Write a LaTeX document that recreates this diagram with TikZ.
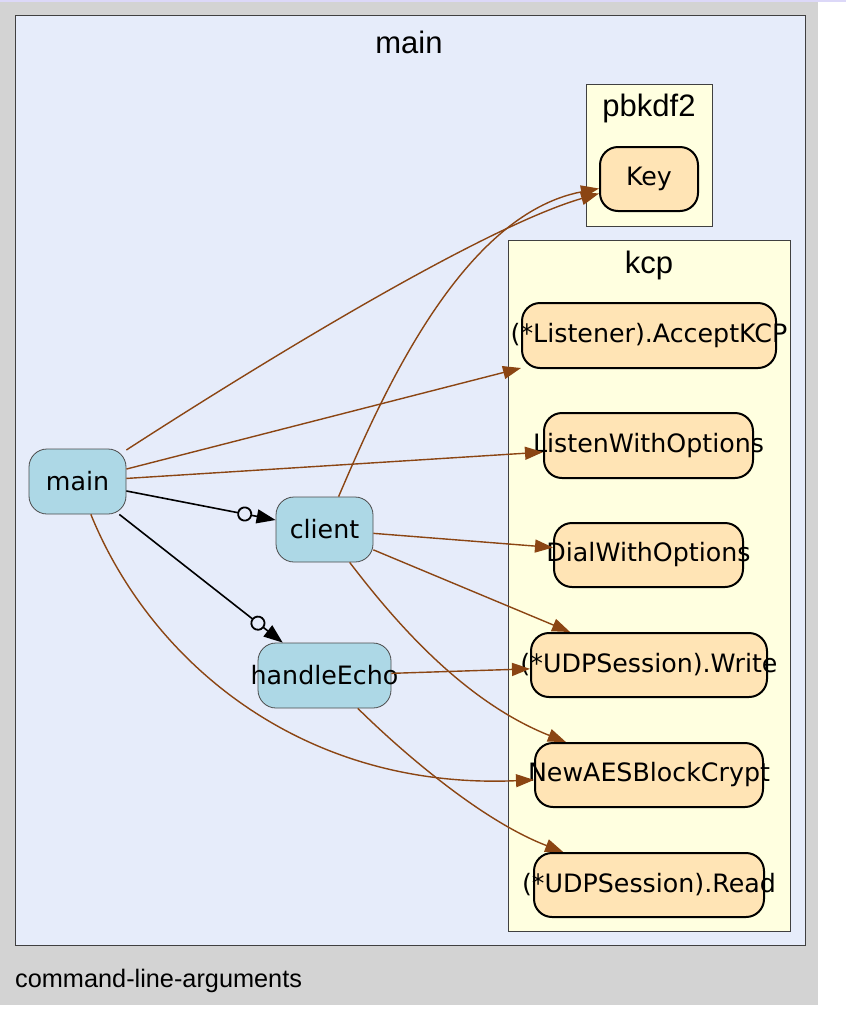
\documentclass[tikz,border=0pt]{standalone}
\usepackage{fontspec}
\setmainfont{DejaVu Sans}
\newfontfamily\labfont{Liberation Sans}
\usetikzlibrary{arrows.meta}
\definecolor{bggray}{HTML}{D3D3D3}
\definecolor{clmain}{HTML}{E6ECFA}
\definecolor{clyellow}{HTML}{FFFFE0}
\definecolor{moccasin}{HTML}{FFE4B5}
\definecolor{lblue}{HTML}{ADD8E6}
\definecolor{sbrown}{HTML}{8B4513}
\definecolor{topline}{HTML}{DCD8F8}
\definecolor{clborder}{HTML}{404040}
\begin{document}
\begin{tikzpicture}[x=1pt,y=-1pt,
  fnode/.style={rectangle, rounded corners=18pt, draw=black, line width=2pt, fill=moccasin, inner sep=0pt, font=\fontsize{25.3}{29}\selectfont},
  bnode/.style={rectangle, rounded corners=18pt, draw=black!70, line width=0.8pt, fill=lblue, inner sep=0pt, font=\fontsize{25.3}{29}\selectfont},
  cluster/.style={draw=clborder, line width=1pt},
  cltext/.style={font=\labfont\fontsize{31}{36}\selectfont, inner sep=0pt},
  callarrow/.style={draw=sbrown, line width=1.4pt, -{Triangle[length=18pt,width=13pt,fill=sbrown]}},
  gocall/.style={draw=black, line width=1.6pt, -{Circle[open,length=15pt,width=15pt,line width=1.8pt,fill=clmain,sep=5pt] Triangle[length=19pt,width=14pt]}}
]
\useasboundingbox (0,0) rectangle (846,1026);
% background
\fill[bggray] (0,0) rectangle (818,1005);
\fill[topline] (0,0) rectangle (846,2);
% clusters
\draw[cluster, fill=clmain] (15,15) rectangle (805,945);
\node[cltext] (lmain) at (409,42) {main};
\draw[cluster, fill=clyellow] (586,84) rectangle (712,226);
\node[cltext] (lpbkdf) at (649,108) {pbkdf2};
\draw[cluster, fill=clyellow] (508,240) rectangle (790,931);
\node[cltext] (lkcp) at (649,265) {kcp};
\node[font=\labfont\fontsize{25.3}{29}\selectfont, anchor=west, inner sep=0pt] (lcmd) at (15,981) {command-line-arguments};
% nodes
\node[fnode, minimum width=98pt, minimum height=64pt] (key) at (649,179) {\makebox[0pt]{Key}};
\node[fnode, minimum width=254pt, minimum height=65pt] (accept) at (649,335.5) {\makebox[0pt]{(*Listener).AcceptKCP}};
\node[fnode, minimum width=209pt, minimum height=65pt] (listen) at (648.5,445.5) {\makebox[0pt]{ListenWithOptions}};
\node[fnode, minimum width=189pt, minimum height=64pt] (dial) at (648.5,555) {\makebox[0pt]{DialWithOptions}};
\node[fnode, minimum width=236pt, minimum height=64pt] (write) at (649,665) {\makebox[0pt]{(*UDPSession).Write}};
\node[fnode, minimum width=228pt, minimum height=64pt] (aes) at (649,775) {\makebox[0pt]{NewAESBlockCrypt}};
\node[fnode, minimum width=230pt, minimum height=64pt] (read) at (649,885) {\makebox[0pt]{(*UDPSession).Read}};
\node[bnode, minimum width=97pt, minimum height=65pt] (mainf) at (77.5,481.5) {\makebox[0pt]{main}};
\node[bnode, minimum width=97pt, minimum height=65pt] (client) at (324.5,529.5) {\makebox[0pt]{client}};
\node[bnode, minimum width=133pt, minimum height=65pt] (echo) at (324.5,675.5) {\makebox[0pt]{handleEcho}};
% edges
\draw[callarrow] (mainf) .. controls (250,370) and (480,228) .. (key);
\draw[callarrow] (client) .. controls (380,400) and (460,215) .. (key);
\draw[callarrow] (mainf) -- (accept);
\draw[callarrow] (mainf) -- (listen);
\draw[gocall] (mainf) -- (client);
\draw[gocall] (mainf) -- (echo);
\draw[callarrow] (mainf) .. controls (150,660) and (300,790) .. (aes);
\draw[callarrow] (client) -- (dial);
\draw[callarrow] (client) -- (write);
\draw[callarrow] (client) .. controls (390,615) and (460,700) .. (aes);
\draw[callarrow] (echo) -- (write);
\draw[callarrow] (echo) .. controls (400,750) and (480,820) .. (read);
\end{tikzpicture}
\end{document}
